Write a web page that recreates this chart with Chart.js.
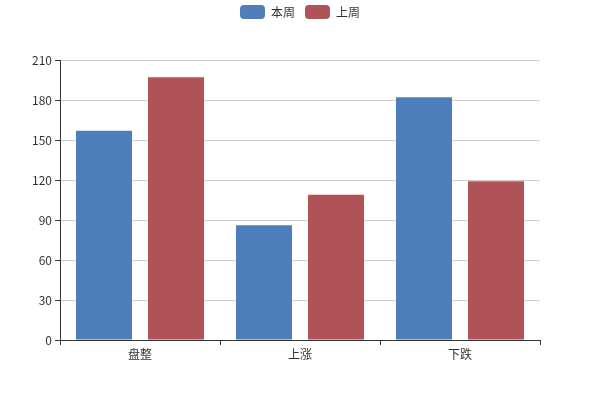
<!DOCTYPE html>
<html>
<head>
<meta charset="utf-8">
<script src="https://cdn.jsdelivr.net/npm/chart.js@4/dist/chart.umd.min.js"></script>
<style>
html,body{margin:0;padding:0;background:#fff;}
#wrap{width:600px;height:400px;position:relative;}
</style>
</head>
<body>
<div id="wrap"><canvas id="c" width="600" height="400"></canvas></div>
<script>
const categories = ['盘整', '上涨', '下跌'];
const seriesNames = ['本周', '上周'];
const thisWeek = [157, 86, 182];
const lastWeek = [197, 109, 119];
const yTicks = [0, 30, 60, 90, 120, 150, 180, 210];

const FONT = "'Noto Sans CJK SC', 'Noto Sans', sans-serif";

const legendHeightPlugin = {
  id: 'legendHeight',
  beforeUpdate(chart) {
    const lg = chart.legend;
    if (lg && !lg._patched) {
      const orig = lg.fit;
      lg.fit = function () { orig.call(this); this.height = 65; };
      lg._patched = true;
    }
  }
};

new Chart(document.getElementById('c'), {
  type: 'bar',
  data: {
    labels: categories,
    datasets: [
      { label: seriesNames[0], data: thisWeek, backgroundColor: '#4e7fbb' },
      { label: seriesNames[1], data: lastWeek, backgroundColor: '#af5358' }
    ]
  },
  options: {
    responsive: false,
    animation: false,
    devicePixelRatio: 1,
    layout: { padding: { left: 0, right: 0, top: -5, bottom: 0 } },
    datasets: { bar: { categoryPercentage: 0.9, barPercentage: 0.778 } },
    plugins: {
      tooltip: { enabled: false },
      legend: {
        position: 'top',
        align: 'center',
        labels: {
          boxWidth: 25,
          boxHeight: 14,
          useBorderRadius: true,
          borderRadius: 4,
          padding: 10,
          color: '#333',
          font: { family: FONT, size: 12 }
        }
      }
    },
    scales: {
      x: {
        afterFit(s) { s.height = 60; },
        grid: { display: true, drawOnChartArea: false, drawTicks: true, tickLength: 5, tickColor: '#333', offset: true },
        border: { display: true, color: '#333', width: 1 },
        ticks: { color: '#333', padding: 2, font: { family: FONT, size: 12 } }
      },
      y: {
        min: 0,
        max: 210,
        afterFit(s) { s.width = 60; },
        afterBuildTicks(s) { s.ticks = yTicks.map(v => ({ value: v })); },
        grid: { color: '#cccccc', drawTicks: true, tickLength: 5, tickColor: '#333' },
        border: { display: true, color: '#333', width: 1 },
        ticks: { color: '#333', padding: 3, font: { family: FONT, size: 12 } }
      },
      yRight: {
        position: 'right',
        min: 0,
        max: 210,
        afterFit(s) { s.width = 60; },
        grid: { display: false },
        border: { display: false },
        ticks: { display: false }
      }
    }
  },
  plugins: [legendHeightPlugin]
});
</script>
</body>
</html>
